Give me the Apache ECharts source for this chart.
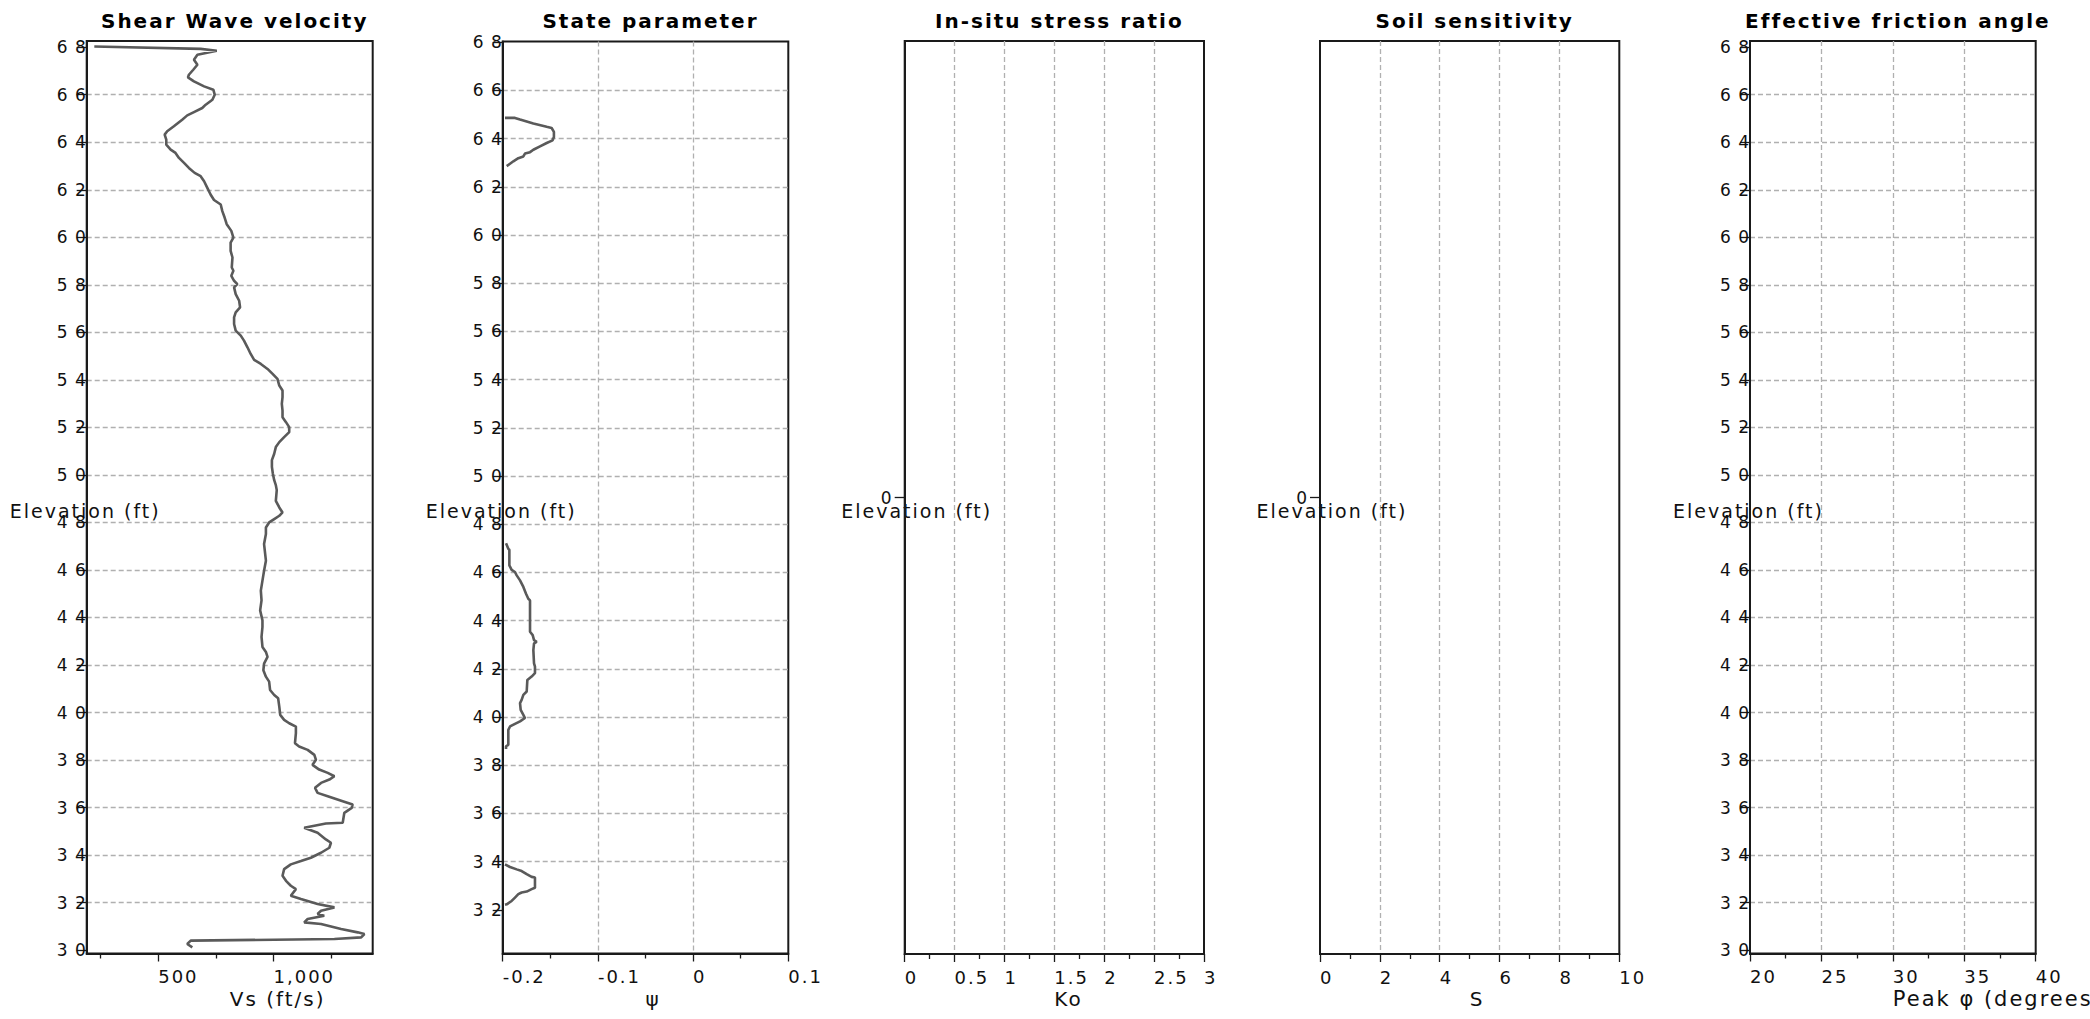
<!DOCTYPE html>
<html><head><meta charset="utf-8">
<script src="https://cdn.jsdelivr.net/npm/echarts@6/dist/echarts.min.js"></script>
<style>
html,body{margin:0;padding:0;background:#fff;}
#chart{width:2090px;height:1019px;}
#chart text{letter-spacing:2px;}
</style></head><body><div id="chart"></div>
<script>
const titles = ['Shear Wave velocity','State parameter','In-situ stress ratio','Soil sensitivity','Effective friction angle'];
const xNames = ['Vs (ft/s)','ψ','Ko','S','Peak φ (degrees)'];
const yName = 'Elevation (ft)';
const elevTicks = [30,32,34,36,38,40,42,44,46,48,50,52,54,56,58,60,62,64,66,68];
const psiElevTicks = [32,34,36,38,40,42,44,46,48,50,52,54,56,58,60,62,64,66,68];
const emptyTicks = [0];
const vsMajorTicks = [500,1000];
const vsMinorTicks = [250,750,1250];

const vsElev = [68.03,67.93,67.85,67.68,67.47,67.26,67.05,66.84,66.73,66.56,66.35,66.21,66.0,65.79,65.58,65.44,65.27,65.13,64.95,64.67,64.46,64.32,64.11,63.90,63.69,63.55,63.34,63.13,62.92,62.71,62.57,62.36,62.08,61.80,61.57,61.38,61.10,60.83,60.55,60.27,59.99,59.78,59.43,59.15,58.73,58.59,58.38,58.17,58.03,57.89,57.61,57.33,57.05,56.84,56.63,56.35,56.07,55.86,55.65,55.37,55.09,54.84,54.67,54.46,54.25,54.04,53.76,53.55,53.27,52.99,52.71,52.43,52.22,52.01,51.80,51.59,51.38,51.17,50.89,50.62,50.34,50.06,49.78,49.57,49.36,
48.91,48.63,48.42,48.28,48.14,48.0,47.79,47.51,47.09,46.39,45.97,45.55,45.13,44.72,44.30,43.88,43.60,43.18,42.76,42.55,42.34,42.06,41.78,41.51,41.30,40.95,40.74,40.60,40.25,39.90,39.69,39.55,39.41,39.13,38.71,38.57,38.43,38.22,38.01,37.80,37.60,37.46,37.32,37.18,37.04,36.83,36.62,36.48,36.27,36.13,35.99,35.78,35.36,35.33,35.15,34.94,34.66,34.52,34.31,34.10,33.89,33.75,33.61,33.41,33.13,32.92,32.71,32.57,32.29,32.15,31.94,31.80,31.66,31.52,31.45,31.31,31.17,31.10,30.89,30.75,30.68,30.54,30.47,30.40,30.26,30.12];
const vsVal = [223,684,754,670,655,670,652,633,629,655,699,739,745,735,706,691,655,626,604,568,539,528,535,535,554,575,590,612,633,658,684,699,713,727,742,771,778,788,797,817,826,814,814,822,819,826,817,829,843,829,836,851,855,836,829,829,836,858,872,887,901,916,945,974,996,1017,1025,1039,1039,1036,1039,1039,1054,1068,1068,1046,1025,1010,1003,993,993,997,1003,1010,1014,
1010,1025,1039,1025,1003,981,967,967,959,967,959,952,945,948,942,952,952,948,952,967,974,959,956,967,981,985,1003,1020,1025,1029,1046,1068,1097,1097,1093,1111,1148,1177,1184,1169,1198,1235,1264,1242,1206,1180,1191,1235,1300,1343,1339,1307,1300,1227,1133,1191,1227,1249,1242,1206,1162,1119,1075,1046,1039,1054,1075,1097,1075,1119,1191,1264,1206,1191,1220,1148,1133,1206,1293,1365,1394,1380,1264,641,626,648];

const psiElev = [64.86,64.86,64.79,64.63,64.49,64.44,64.28,64.07,63.93,63.82,63.68,63.54,63.44,63.38,63.26,63.19,63.06,62.96,62.86,
null,
47.21,46.98,46.94,46.29,46.11,46.02,45.88,45.67,45.40,45.12,44.91,44.84,43.54,43.40,43.19,43.12,43.06,42.78,42.23,42.09,41.82,41.68,41.54,41.06,40.92,40.71,40.58,40.30,40.09,39.96,39.82,39.72,39.61,39.47,38.85,38.79,38.67,
null,
33.89,33.78,33.68,33.61,33.48,33.37,33.34,32.92,32.86,32.76,32.72,32.65,32.51,32.37,32.23,32.21];
const psiVal = [-0.1976,-0.1871,-0.1818,-0.1678,-0.1538,-0.1486,-0.1462,-0.1462,-0.1476,-0.1538,-0.1608,-0.1678,-0.1713,-0.1766,-0.1783,-0.1836,-0.1888,-0.1923,-0.1958,
null,
-0.1965,-0.1941,-0.1930,-0.1930,-0.1906,-0.1871,-0.1853,-0.1818,-0.1783,-0.1755,-0.1731,-0.1713,-0.1713,-0.1685,-0.1671,-0.1643,-0.1671,-0.1678,-0.1671,-0.1661,-0.1661,-0.1696,-0.1741,-0.1748,-0.1783,-0.1801,-0.1818,-0.1811,-0.1783,-0.1766,-0.1818,-0.1871,-0.1923,-0.1941,-0.1941,-0.1965,-0.1965,
null,
-0.1976,-0.1923,-0.1853,-0.1801,-0.1748,-0.1696,-0.1661,-0.1661,-0.1696,-0.1748,-0.1801,-0.1836,-0.1871,-0.1906,-0.1958,-0.1976];

const F = 'DejaVu Sans';
const INK = '#1a1a1a';
const GRIDC = '#b0b0b0';
const rects = [
  {left:86.7, top:41, width:286, height:912.5},
  {left:502.7, top:41.5, width:285.6, height:912},
  {left:904.7, top:41, width:299.3, height:913},
  {left:1320, top:41, width:299.3, height:913},
  {left:1750, top:41, width:285.7, height:912.5}
];
const yRanges = [[29.86,68.26,elevTicks],[30.19,68.03,psiElevTicks],[-1,1,emptyTicks],[-1,1,emptyTicks],[29.86,68.26,elevTicks]];
const yLabelMargin = [-1,-1,11,11,-1];
const yNameGap = [1.5,1.5,-12,-12,1.5];
const xNameSize = [20,20,20,20,21];

const grids = rects.map(r => Object.assign({show:true, borderColor:INK, borderWidth:2, containLabel:false, outerBoundsMode:'none'}, r));

const yAxes = yRanges.map((yr, i) => ({
  type:'value', gridIndex:i, min:yr[0], max:yr[1],
  name:yName, nameLocation:'middle', nameRotate:0, nameGap:yNameGap[i], nameMoveOverlap:false,
  nameTextStyle:{fontFamily:F, fontSize:19, color:'#111', align:'center', verticalAlign:'top', padding:[4,0,0,0]},
  axisLine:{show:true, onZero:false, lineStyle:{color:INK, width:2}},
  axisTick:{show:true, customValues:yr[2], length:10, inside:false, lineStyle:{color:INK, width:1.3}},
  axisLabel:{show:true, customValues:yr[2], margin:yLabelMargin[i], fontFamily:F, fontSize:17, color:'#111',
    formatter: v => String(v).split('').join('\u2009')},
  splitLine:{show:true, showMinLine:false, showMaxLine:false, lineStyle:{color:GRIDC, width:1.3, type:[5,3]}}
}));

function xBase(i, min, max) {
  return {
    type:'value', gridIndex:i, min:min, max:max, position:'bottom',
    name:xNames[i], nameLocation:'middle', nameGap:35, nameMoveOverlap:false,
    nameTextStyle:{fontFamily:F, fontSize:xNameSize[i], color:'#111', align:'left', verticalAlign:'top'},
    axisLine:{show:true, onZero:false, lineStyle:{color:INK, width:2}},
    axisTick:{show:true, length:8, lineStyle:{color:INK, width:1.3}},
    minorTick:{show:true, splitNumber:2, length:5, lineStyle:{color:INK, width:1.3}},
    axisLabel:{show:true, align:'left', margin:14, fontFamily:F, fontSize:18, color:'#111',
      formatter: v => String(Math.round(v*1000)/1000)},
    splitLine:{show:true, showMinLine:false, showMaxLine:false, lineStyle:{color:GRIDC, width:1.3, type:[5,3]}}
  };
}
const xVs = xBase(0, 190, 1430);
xVs.axisTick = {show:true, customValues:vsMajorTicks, length:8, lineStyle:{color:INK, width:1.3}};
xVs.axisLabel = Object.assign({}, xVs.axisLabel, {customValues:vsMajorTicks, formatter: v => v.toLocaleString('en-US')});
xVs.minorTick = {show:false};
const xVsMinor = {
  type:'value', gridIndex:0, min:190, max:1430, position:'bottom',
  axisLine:{show:false}, axisLabel:{show:false}, splitLine:{show:false},
  axisTick:{show:true, customValues:vsMinorTicks, length:5, lineStyle:{color:INK, width:1.3}}
};
const xPsi = Object.assign(xBase(1, -0.2, 0.1), {interval:0.1});
const xKo = Object.assign(xBase(2, 0, 3), {interval:0.5});
const xS = Object.assign(xBase(3, 0, 10), {interval:2});
const xPhi = Object.assign(xBase(4, 20, 40), {interval:5});

const vsData = vsVal.map((v, k) => [v, vsElev[k]]);
const psiData = psiVal.map((v, k) => [v, psiElev[k]]);

const option = {
  animation:false,
  backgroundColor:'#fff',
  title: titles.map((t, i) => ({
    text:t, left: rects[i].left + rects[i].width/2, top:6, textAlign:'center',
    textStyle:{fontFamily:F, fontSize:20, fontWeight:'bold', color:'#000'}
  })),
  grid: grids,
  xAxis: [xVs, xVsMinor, xPsi, xKo, xS, xPhi],
  yAxis: yAxes,
  series: [
    {type:'line', name:'Vs', xAxisIndex:0, yAxisIndex:0, data:vsData, symbol:'none', showSymbol:false,
      lineStyle:{color:'#5a5a5a', width:2.6}, silent:true, connectNulls:false},
    {type:'line', name:'psi', xAxisIndex:2, yAxisIndex:1, data:psiData, symbol:'none', showSymbol:false,
      lineStyle:{color:'#5a5a5a', width:2.6}, silent:true, connectNulls:false}
  ]
};
const chart = echarts.init(document.getElementById('chart'), null, {renderer:'svg'});
chart.setOption(option);
</script></body></html>
